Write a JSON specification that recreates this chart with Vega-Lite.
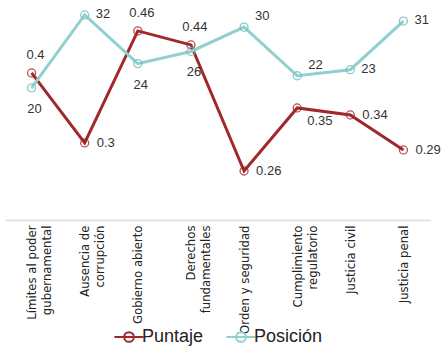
{
  "$schema": "https://vega.github.io/schema/vega-lite/v6.json",
  "width": 425,
  "height": 215,
  "padding": {"left": 5, "top": 5, "right": 14, "bottom": 0},
  "background": "white",
  "config": {"view": {"stroke": null}},
  "data": {
    "values": [
      {"categoria": "Límites al poder|gubernamental", "serie": "Puntaje", "valor": 0.4},
      {"categoria": "Ausencia de|corrupción", "serie": "Puntaje", "valor": 0.3},
      {"categoria": "Gobierno abierto", "serie": "Puntaje", "valor": 0.46},
      {"categoria": "Derechos|fundamentales", "serie": "Puntaje", "valor": 0.44},
      {"categoria": "Orden y seguridad", "serie": "Puntaje", "valor": 0.26},
      {"categoria": "Cumplimiento|regulatorio", "serie": "Puntaje", "valor": 0.35},
      {"categoria": "Justicia civil", "serie": "Puntaje", "valor": 0.34},
      {"categoria": "Justicia penal", "serie": "Puntaje", "valor": 0.29},
      {"categoria": "Límites al poder|gubernamental", "serie": "Posición", "valor": 20},
      {"categoria": "Ausencia de|corrupción", "serie": "Posición", "valor": 32},
      {"categoria": "Gobierno abierto", "serie": "Posición", "valor": 24},
      {"categoria": "Derechos|fundamentales", "serie": "Posición", "valor": 26},
      {"categoria": "Orden y seguridad", "serie": "Posición", "valor": 30},
      {"categoria": "Cumplimiento|regulatorio", "serie": "Posición", "valor": 22},
      {"categoria": "Justicia civil", "serie": "Posición", "valor": 23},
      {"categoria": "Justicia penal", "serie": "Posición", "valor": 31}
    ]
  },
  "encoding": {
    "x": {
      "field": "categoria",
      "type": "nominal",
      "sort": null,
      "title": null,
      "axis": {
        "domainColor": "#dddddd",
        "domainWidth": 1.5,
        "ticks": false,
        "labelAngle": -90,
        "labelAlign": "right",
        "labelBaseline": "middle",
        "labelFont": "DejaVu Sans Condensed, Liberation Sans, sans-serif",
        "labelFontSize": 13,
        "labelColor": "#222222",
        "labelLineHeight": 15,
        "labelPadding": 5,
        "labelOverlap": false,
        "labelExpr": "split(datum.label, '|')"
      }
    }
  },
  "layer": [
    {
      "transform": [{"filter": "datum.serie == 'Puntaje'"}],
      "encoding": {
        "y": {"field": "valor", "type": "quantitative", "axis": null, "scale": {"domain": [0.19, 0.497], "nice": false, "zero": false}}
      },
      "layer": [
        {
          "mark": {"type": "line", "strokeWidth": 3},
          "encoding": {
            "color": {
              "field": "serie", "type": "nominal",
              "scale": {"domain": ["Puntaje", "Posición"], "range": ["#a1282a", "#92d0d0"]},
              "legend": {
                "orient": "none", "legendX": 113, "legendY": 321, "direction": "horizontal", "title": null,
                "labelFont": "Liberation Sans", "labelFontSize": 18, "labelColor": "#222222",
                "symbolType": "M-1.5,0L1.5,0M0.5,0A0.5,0.5 0 1 1 -0.5,0A0.5,0.5 0 1 1 0.5,0",
                "symbolSize": 380, "symbolStrokeWidth": 2, "symbolFillColor": "transparent",
                "labelOffset": 2, "columnPadding": 18
              }
            }
          }
        },
        {
          "mark": {"type": "point", "filled": false, "size": 64, "strokeWidth": 1.3, "opacity": 0.8, "color": "#a1282a"}
        },
        {
          "transform": [{"filter": {"field": "categoria", "oneOf": ["Límites al poder|gubernamental", "Gobierno abierto", "Derechos|fundamentales"]}}],
          "mark": {"type": "text", "align": "center", "baseline": "middle", "dx": 4, "dy": -18, "fontSize": 13, "font": "Liberation Sans", "color": "#333333"},
          "encoding": {"text": {"field": "valor", "type": "nominal"}}
        },
        {
          "transform": [{"filter": {"field": "categoria", "oneOf": ["Ausencia de|corrupción", "Orden y seguridad", "Justicia civil", "Justicia penal"]}}],
          "mark": {"type": "text", "align": "left", "baseline": "middle", "dx": 12, "dy": 0, "fontSize": 13, "font": "Liberation Sans", "color": "#333333"},
          "encoding": {"text": {"field": "valor", "type": "nominal"}}
        },
        {
          "transform": [{"filter": {"field": "categoria", "equal": "Cumplimiento|regulatorio"}}],
          "mark": {"type": "text", "align": "left", "baseline": "middle", "dx": 10, "dy": 13, "fontSize": 13, "font": "Liberation Sans", "color": "#333333"},
          "encoding": {"text": {"field": "valor", "type": "nominal"}}
        }
      ]
    },
    {
      "transform": [{"filter": "datum.serie == 'Posición'"}],
      "encoding": {
        "y": {"field": "valor", "type": "quantitative", "axis": null, "scale": {"domain": [-1.72, 33.64], "nice": false, "zero": false}}
      },
      "layer": [
        {
          "mark": {"type": "line", "strokeWidth": 3},
          "encoding": {"color": {"field": "serie", "type": "nominal"}}
        },
        {
          "mark": {"type": "point", "filled": false, "size": 64, "strokeWidth": 1.3, "opacity": 0.8, "color": "#6fbcbc"}
        },
        {
          "transform": [{"filter": {"field": "categoria", "oneOf": ["Límites al poder|gubernamental", "Gobierno abierto", "Derechos|fundamentales"]}}],
          "mark": {"type": "text", "align": "center", "baseline": "middle", "dx": 3, "dy": 21, "fontSize": 13, "font": "Liberation Sans", "color": "#333333"},
          "encoding": {"text": {"field": "valor", "type": "nominal"}}
        },
        {
          "transform": [{"filter": {"field": "categoria", "oneOf": ["Ausencia de|corrupción", "Justicia civil", "Justicia penal"]}}],
          "mark": {"type": "text", "align": "left", "baseline": "middle", "dx": 11, "dy": -1, "fontSize": 13, "font": "Liberation Sans", "color": "#333333"},
          "encoding": {"text": {"field": "valor", "type": "nominal"}}
        },
        {
          "transform": [{"filter": {"field": "categoria", "oneOf": ["Orden y seguridad", "Cumplimiento|regulatorio"]}}],
          "mark": {"type": "text", "align": "left", "baseline": "middle", "dx": 11, "dy": -11, "fontSize": 13, "font": "Liberation Sans", "color": "#333333"},
          "encoding": {"text": {"field": "valor", "type": "nominal"}}
        }
      ]
    }
  ],
  "resolve": {"scale": {"y": "independent"}}
}
